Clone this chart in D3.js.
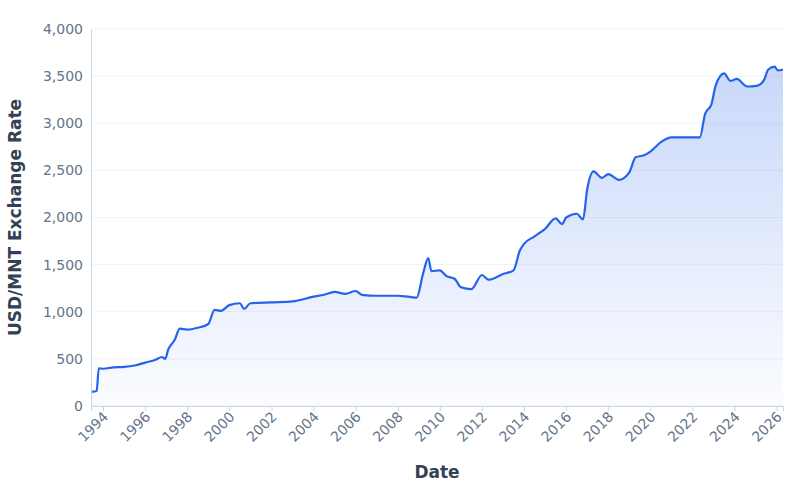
<!DOCTYPE html>
<html><head><meta charset="utf-8">
<script src="https://cdn.jsdelivr.net/npm/d3@7"></script>
<style>body{margin:0;background:#fff}text{font-family:"DejaVu Sans",sans-serif}</style>
</head><body><svg id="c" width="800" height="500"></svg>
<script>
const years = [1993.45,1993.7,1993.8,1994.0,1994.5,1995,1995.5,1996,1996.5,1996.8,1996.95,1997.1,1997.4,1997.65,1998,1998.5,1999,1999.3,1999.6,2000,2000.5,2000.7,2001,2002,2003,2004,2004.5,2005,2005.5,2006,2006.3,2007,2008,2008.5,2008.9,2009.2,2009.45,2009.6,2010,2010.3,2010.7,2011,2011.5,2012,2012.3,2013,2013.5,2013.8,2014,2014.5,2015,2015.5,2015.8,2016,2016.5,2016.8,2017,2017.3,2017.7,2018,2018.5,2019,2019.3,2019.7,2020,2020.5,2021,2022.35,2022.6,2022.9,2023.1,2023.5,2023.8,2024.1,2024.6,2025.1,2025.4,2025.6,2025.9,2026.05,2026.3];
const rates = [150,160,400,395,410,415,430,460,490,520,500,600,700,820,810,830,870,1020,1010,1070,1090,1030,1090,1100,1110,1160,1180,1210,1190,1220,1180,1170,1170,1160,1150,1400,1570,1430,1440,1380,1350,1260,1240,1390,1340,1400,1440,1650,1720,1800,1880,1990,1930,2000,2040,1980,2300,2490,2420,2460,2400,2480,2640,2660,2700,2800,2850,2850,3100,3200,3400,3530,3450,3470,3390,3400,3460,3570,3600,3560,3570];
const tickYears = d3.range(1994, 2027, 2);
const yTicks = d3.range(0, 4001, 500);

const svg = d3.select("#c");
const m = {l:91, r:17, t:29, b:94};
const w = 800 - m.l - m.r, h = 500 - m.t - m.b;
const g = svg.append("g").attr("transform", `translate(${m.l},${m.t})`);
const x = d3.scaleLinear().domain([1993.43, 2026.3]).range([0, w]);
const y = d3.scaleLinear().domain([0, 4000]).range([h, 0]);
const data = years.map((d, i) => ({d, v: rates[i]}));

const grad = svg.append("defs").append("linearGradient").attr("id", "gr")
  .attr("x1", 0).attr("y1", 0).attr("x2", 0).attr("y2", 1);
grad.append("stop").attr("offset", "0%").attr("stop-color", "#2563eb").attr("stop-opacity", 0.25);
grad.append("stop").attr("offset", "100%").attr("stop-color", "#2563eb").attr("stop-opacity", 0.02);

g.selectAll(".grid").data(yTicks).enter().append("line")
  .attr("x1", 0).attr("x2", w).attr("y1", d => y(d)).attr("y2", d => y(d))
  .attr("stroke", "#f1f3f5");

g.append("path").datum(data).attr("fill", "url(#gr)")
  .attr("d", d3.area().curve(d3.curveMonotoneX).x(d => x(d.d)).y0(h).y1(d => y(d.v)));
g.append("path").datum(data).attr("fill", "none").attr("stroke", "#2563eb").attr("stroke-width", 2.2)
  .attr("d", d3.line().curve(d3.curveMonotoneX).x(d => x(d.d)).y(d => y(d.v)));

const ya = g.append("g").call(d3.axisLeft(y).tickValues(yTicks).tickFormat(d3.format(",")).tickSize(0).tickPadding(8));
const xa = g.append("g").attr("transform", `translate(0,${h})`)
  .call(d3.axisBottom(x).tickValues(tickYears).tickFormat(d => d).tickSize(5));
[ya, xa].forEach(a => {
  a.selectAll("text").attr("fill", "#64748b").style("font-size", "14px");
  a.select(".domain").attr("stroke", "#cbd5e1");
  a.selectAll(".tick line").attr("stroke", "#cbd5e1");
});
xa.selectAll("text").attr("text-anchor", "end").attr("dx", "-0.3em").attr("dy", "0.3em")
  .attr("transform", "rotate(-45)");

svg.append("text").attr("x", m.l + w / 2).attr("y", 478).attr("text-anchor", "middle")
  .attr("fill", "#334155").style("font-size", "17px").style("font-weight", "bold").text("Date");
svg.append("text").attr("transform", `translate(21,${m.t + h / 2}) rotate(-90)`).attr("text-anchor", "middle")
  .attr("fill", "#334155").style("font-size", "17px").style("font-weight", "bold").text("USD/MNT Exchange Rate");
</script></body></html>
